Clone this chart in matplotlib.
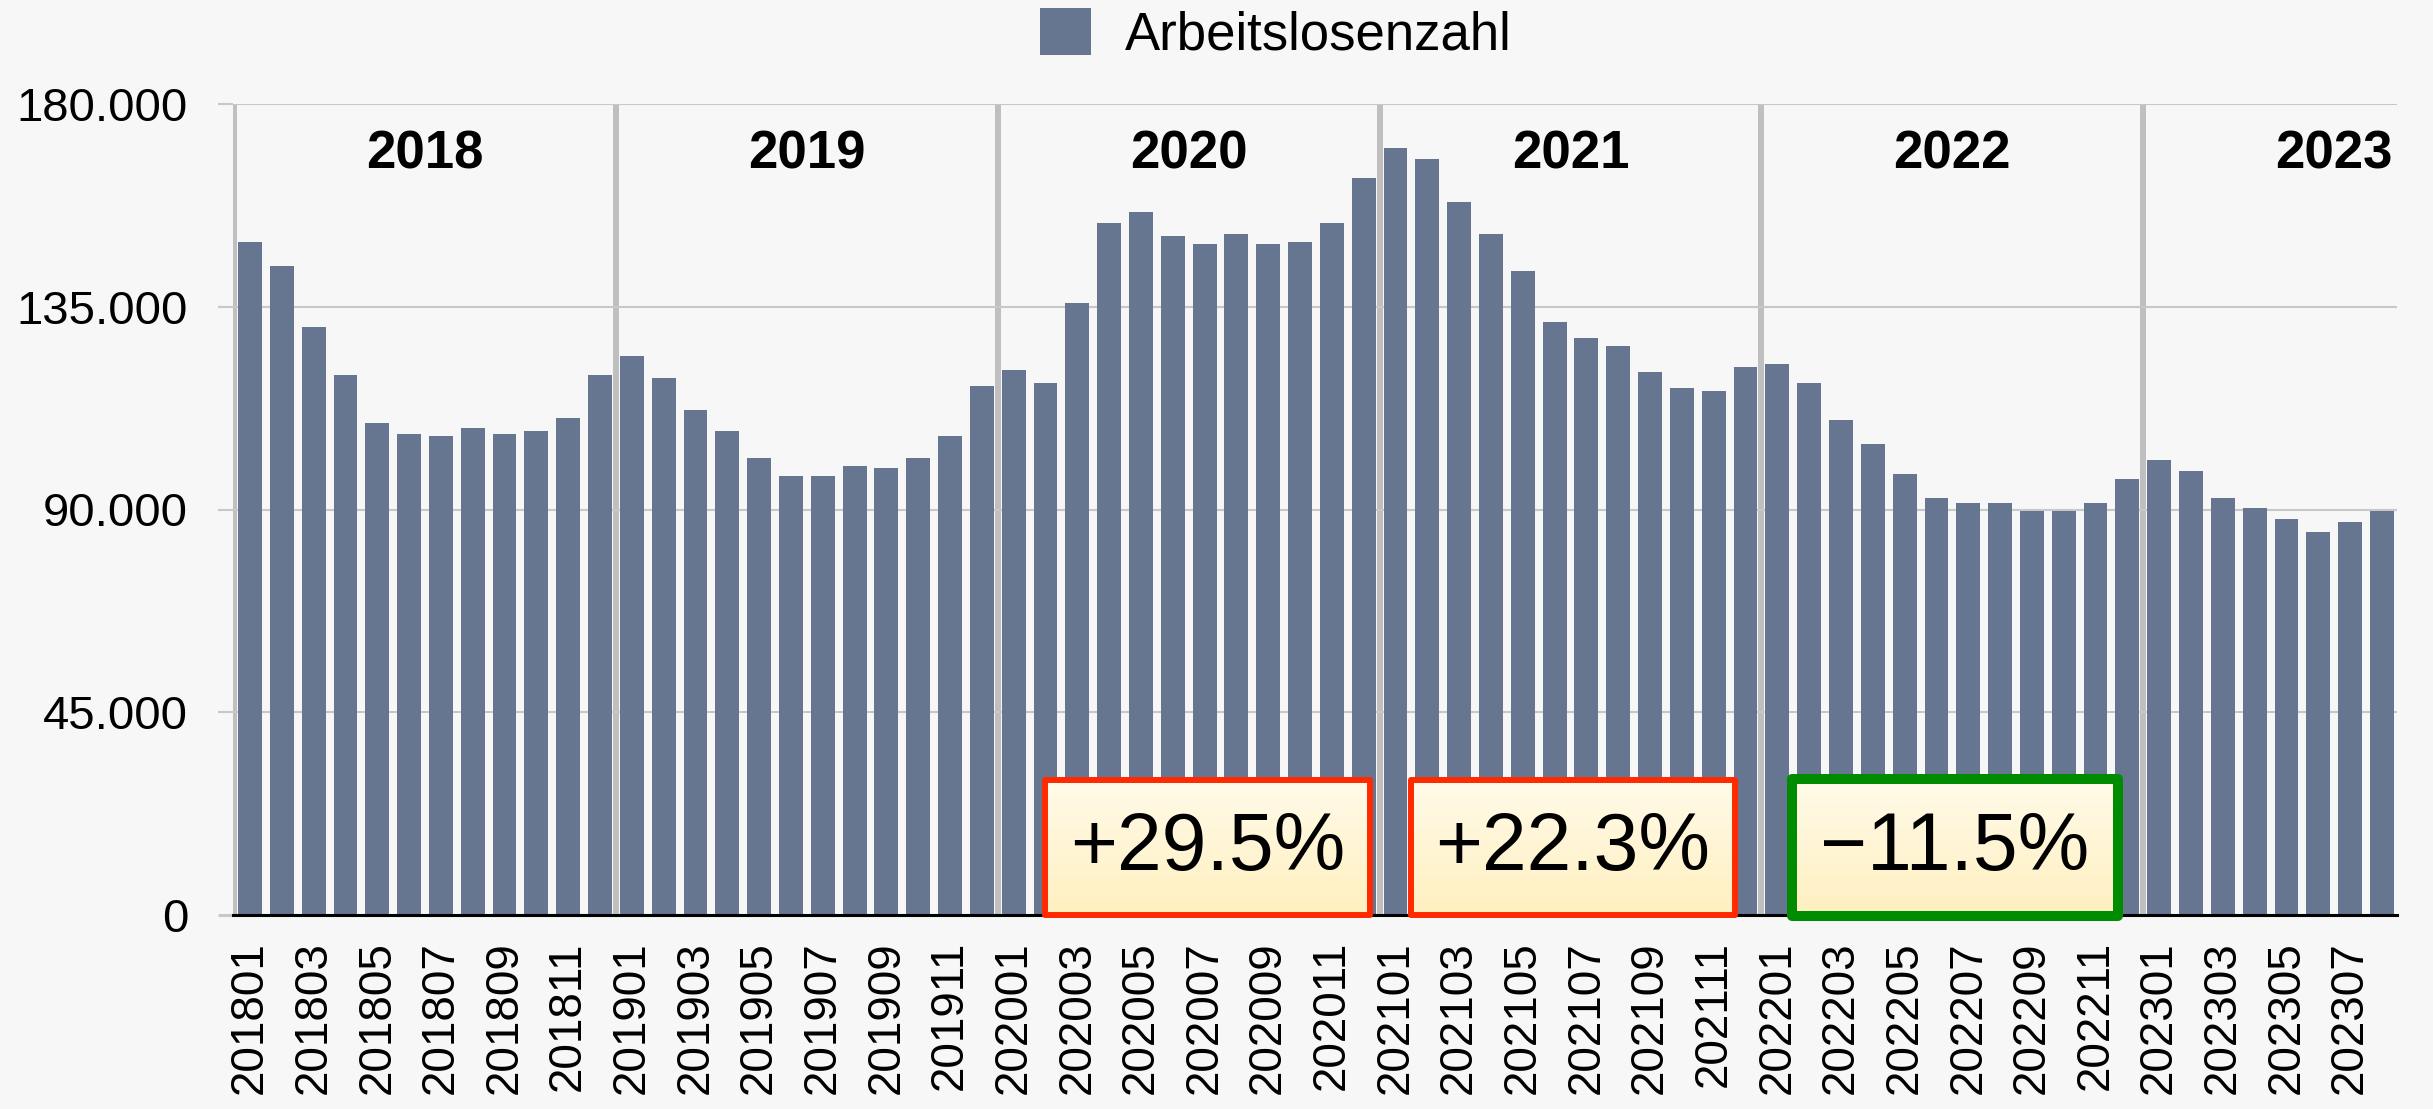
import matplotlib.pyplot as plt
import numpy as np
from matplotlib.patches import Rectangle
from matplotlib.ticker import FuncFormatter

plt.rcParams['font.family'] = ['Liberation Sans', 'DejaVu Sans']

# Monatswerte 2018-01 bis 2023-08
monate = [f"{j}{m:02d}" for j in range(2018, 2024) for m in range(1, 13)][:68]
arbeitslose = [
    149400, 144000, 130500, 119900, 109200, 106800, 106300, 108100, 106800, 107400, 110300, 119900,
    124100, 119200, 112100, 107400, 101500, 97400, 97400, 99600, 99200, 101500, 106300, 117400,
    121000, 118100, 135900, 153600, 156000, 150700, 149000, 151200, 149000, 149400, 153600, 163600,
    170300, 167900, 158300, 151200, 142900, 131600, 128100, 126300, 120500, 117000, 116300, 121600,
    122300, 118100, 109900, 104600, 97900, 92600, 91500, 91500, 89600, 89600, 91500, 96800,
    101000, 98500, 92600, 90400, 87900, 85000, 87200, 89600,
]
jahre = ["2018", "2019", "2020", "2021", "2022", "2023"]
yticks = [0, 45000, 90000, 135000, 180000]
veraenderung = ["+29.5%", "+22.3%", "\u221211.5%"]
rahmenfarben = ["#ff2a00", "#ff2a00", "#008c00"]

# Lage der Kästen (in Balkenpositionen / Wertachse)
kasten = [(24.98, 35.20, -70, 29960, 4.3), (36.49, 46.67, -70, 29960, 4.3),
          (48.46, 58.70, -290, 30180, 7.2)]

bg = "#f7f7f7"
balken = "#667590"
grid = "#c8c8c8"

fig = plt.figure(figsize=(24.33, 11.09), dpi=100, facecolor=bg)
ax = fig.add_axes([232.5 / 2433, 1 - 914.7 / 1109, (2397.2 - 232.5) / 2433, (914.7 - 104.3) / 1109])
ax.set_facecolor(bg)

x = np.arange(len(arbeitslose))
bars = ax.bar(x, arbeitslose, width=0.75, color=balken, zorder=2, label="Arbeitslosenzahl")

# Gitter
ax.set_yticks(yticks)
ax.yaxis.set_major_formatter(FuncFormatter(lambda v, p: f"{int(v):,}".replace(",", ".")))
ax.grid(axis="y", color=grid, linewidth=1.5, zorder=0)
ax.tick_params(axis="y", length=11, width=1.5, color=grid, pad=21, labelsize=34)
ax.yaxis.get_major_ticks()[0].tick1line.set_color("black")
ax.yaxis.get_major_ticks()[0].tick1line.set_markeredgewidth(2.2)

ax.set_xticks(x[::2])
ax.set_xticklabels(monate[::2], rotation=90, fontsize=33)
ax.tick_params(axis="x", length=0, pad=19)

for s in ["left", "right", "top"]:
    ax.spines[s].set_visible(False)
ax.spines["bottom"].set_linewidth(2.2)
ax.spines["bottom"].set_color("black")
ax.spines["bottom"].set_zorder(4)

# Jahrestrenner und Jahreszahlen
for k, jahr in enumerate(jahre):
    ax.axvline(12 * k - 0.5, color="#bfbfbf", linewidth=4.3, zorder=1, ymax=0.997)
    ax.text(12 * k + 5.5, 168900, jahr, ha="center", va="center",
            fontsize=38, fontweight="bold", zorder=5)

# Kästen mit Veränderung
grad = np.linspace(0, 1, 100).reshape(-1, 1)
top = np.array([1.0, 0.984, 0.918])
bot = np.array([1.0, 0.941, 0.753])
img = top + (bot - top) * grad[:, :, None]
for (x0, x1, y0, y1, lw), txt, fc in zip(kasten, veraenderung, rahmenfarben):
    im = ax.imshow(img, extent=(x0, x1, y0, y1), aspect="auto", origin="upper", zorder=5)
    im.set_clip_on(False)
    r = Rectangle((x0, y0), x1 - x0, y1 - y0, fill=False, edgecolor=fc, linewidth=lw,
                  joinstyle="round", zorder=6, clip_on=False)
    ax.add_patch(r)
    ax.text((x0 + x1) / 2, 14600, txt, ha="center", va="center", fontsize=58, zorder=7)

ax.set_xlim(-0.55, 67.48)
ax.set_ylim(0, 180000)

fig.legend(handles=[bars], labels=["Arbeitslosenzahl"], loc="center",
           bbox_to_anchor=(1276 / 2433, 1 - 34.5 / 1109), frameon=False, fontsize=38,
           handlelength=0.97, handleheight=0.97, handletextpad=0.64, borderpad=0)

fig.savefig("out.png", dpi=100, facecolor=bg)
